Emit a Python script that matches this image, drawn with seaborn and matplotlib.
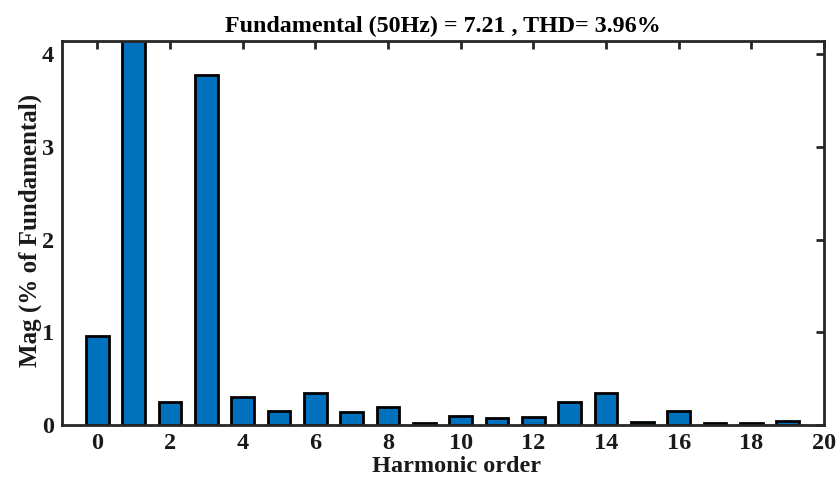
import matplotlib
matplotlib.use("Agg")
import matplotlib.pyplot as plt
import seaborn as sns
import pandas as pd

# Harmonic spectrum (magnitude as % of fundamental)
orders = list(range(20))
mags = [0.96, 100.0, 0.25, 3.78, 0.30, 0.15, 0.35, 0.14, 0.19, 0.02,
        0.10, 0.08, 0.09, 0.245, 0.35, 0.035, 0.155, 0.02, 0.02, 0.04]
x_ticks = list(range(0, 21, 2))
y_ticks = [0, 1, 2, 3, 4]
title_text = "Fundamental (50Hz) = 7.21 , THD= 3.96%"

sns.set_theme(style="white")
plt.rcParams["font.family"] = ["Liberation Serif", "DejaVu Serif"]
plt.rcParams["font.weight"] = "bold"
plt.rcParams["text.color"] = "black"

df = pd.DataFrame({"order": orders, "mag": mags})

fig = plt.figure(figsize=(8.38, 4.79), dpi=100)
ax = fig.add_axes([62 / 838, 1 - 425 / 479, (824 - 62) / 838, (425 - 40.5) / 479])

sns.barplot(data=df, x="order", y="mag", native_scale=True, width=0.62,
            color="#0072BD", saturation=1, edgecolor="black", linewidth=2.0, ax=ax)

ax.set_xlim(-0.97, 19.9)
ax.set_ylim(0, 4.15)
ax.set_xticks(x_ticks)
ax.set_xticklabels([str(t) for t in x_ticks])
ax.set_yticks(y_ticks)
ax.set_yticklabels([str(t) for t in y_ticks])

for s in ax.spines.values():
    s.set_linewidth(2.0)
    s.set_color("#262626")
    s.set_visible(True)

ax.tick_params(direction="in", length=6, width=2.0, color="#262626",
               labelcolor="#1a1a1a", top=True, right=True, labelsize=17.5, pad=6)
for lab in ax.get_xticklabels() + ax.get_yticklabels():
    lab.set_fontweight("bold")

ax.set_title(title_text, fontsize=17.3, fontweight="bold", pad=6, color="black")
ax.set_xlabel("Harmonic order", fontsize=17.5, fontweight="bold", color="#1a1a1a")
ax.xaxis.set_label_coords(0.518, -0.08)
ax.set_ylabel("Mag (% of Fundamental)", fontsize=18, fontweight="bold", color="#1a1a1a")
ax.yaxis.set_label_coords(-0.026, 0.505)

fig.savefig("out.png", dpi=100)
